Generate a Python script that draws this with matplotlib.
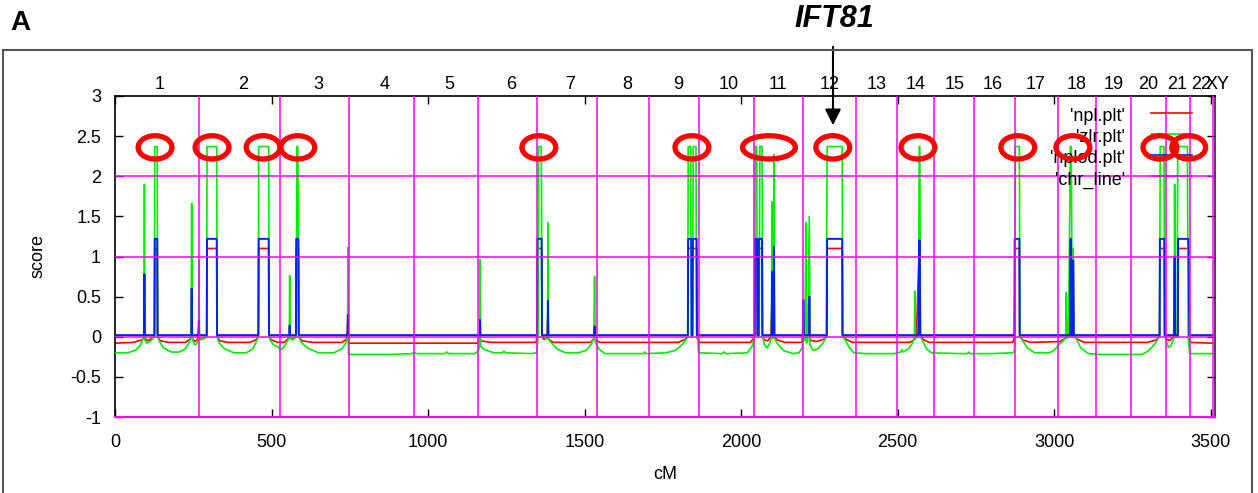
import numpy as np
import matplotlib
matplotlib.use('Agg')
import matplotlib.pyplot as plt
from matplotlib.patches import Ellipse, Rectangle

plt.rcParams['font.family'] = ['Liberation Sans', 'DejaVu Sans']

# chromosome boundaries (cM) and label positions along the top
chr_bounds = [268, 527, 747, 955, 1159, 1348, 1539, 1705, 1865, 2041, 2197,
              2367, 2498, 2616, 2744, 2875, 3012, 3133, 3245, 3357, 3433, 3507]
chr_names = [str(i) for i in range(1, 23)] + ['X', 'Y']
chr_label_cm = [144, 409, 651, 862, 1067, 1265, 1453, 1638, 1798, 1961, 2117,
                2284, 2434, 2558, 2683, 2804, 2940, 3072, 3190, 3302, 3392,
                3469, 3504, 3539]

# zlr.plt (green)
zlr_pts = [
    (0, -0.20), (40, -0.20), (65, -0.17), (82, -0.10), (90, -0.02), (93, -0.01),
    (94, 1.90), (95, -0.04), (102, -0.08), (112, -0.06), (122, -0.02), (126, 0.0),
    (127, 2.37), (135, 2.37), (136, 0.0), (142, -0.06), (155, -0.14), (180, -0.19),
    (205, -0.19), (225, -0.15), (237, -0.07), (243, -0.01), (245, 1.66), (247, -0.02),
    (252, -0.09), (258, -0.10), (264, -0.06), (267, -0.02), (268, 0.95), (270, -0.04),
    (278, -0.03), (288, -0.01), (293, 0.0), (294, 2.37), (325, 2.37), (326, 0.0),
    (333, -0.08), (350, -0.15), (380, -0.20), (420, -0.20), (440, -0.15), (452, -0.06),
    (458, 0.0), (459, 2.37), (491, 2.37), (492, 0.0), (498, -0.06), (510, -0.11),
    (522, -0.13), (527, -0.16), (535, -0.15), (546, -0.09), (554, -0.03), (557, 0.0),
    (558, 0.76), (560, -0.02), (568, -0.04), (576, -0.01), (579, 0.0), (581, 2.37),
    (584, 2.37), (587, 0.0), (595, -0.07), (615, -0.14), (650, -0.20), (700, -0.20),
    (725, -0.15), (737, -0.08), (743, -0.01), (744, 1.11), (746, -0.22), (800, -0.22),
    (880, -0.22), (950, -0.21), (955, -0.19), (962, -0.21), (1055, -0.21), (1060, -0.19),
    (1066, -0.21), (1150, -0.21), (1162, -0.17), (1165, -0.05), (1166, 0.96), (1168, -0.12),
    (1180, -0.16), (1210, -0.20), (1238, -0.20), (1242, -0.18), (1248, -0.20), (1330, -0.21),
    (1347, -0.20), (1352, 0.0), (1353, 2.37), (1362, 2.37), (1364, 0.0), (1370, 0.0),
    (1376, -0.02), (1382, 0.0), (1383, 1.42), (1385, -0.03), (1395, -0.08), (1415, -0.16),
    (1440, -0.20), (1480, -0.20), (1505, -0.17), (1522, -0.09), (1530, -0.01), (1532, 0.75),
    (1534, -0.06), (1545, -0.15), (1565, -0.21), (1630, -0.21), (1688, -0.21), (1692, -0.19),
    (1696, -0.21), (1760, -0.20), (1790, -0.17), (1812, -0.10), (1825, -0.03), (1830, 0.0),
    (1831, 2.37), (1839, 2.37), (1841, 0.0), (1845, 0.0), (1847, 2.37), (1856, 2.37),
    (1858, 0.0), (1862, -0.05), (1864, -0.20), (1940, -0.21), (1946, -0.19), (1952, -0.21),
    (2020, -0.20), (2035, -0.12), (2042, -0.02), (2044, 0.0), (2045, 2.37), (2050, 2.37),
    (2052, 0.0), (2058, 0.0), (2060, 2.37), (2067, 2.37), (2069, 0.0), (2075, -0.10),
    (2083, -0.14), (2092, -0.08), (2097, 0.0), (2099, 1.68), (2101, -0.02), (2103, 0.0),
    (2105, 2.27), (2107, -0.02), (2115, -0.08), (2135, -0.17), (2165, -0.21), (2185, -0.20),
    (2195, -0.14), (2198, -0.05), (2204, -0.04), (2207, 1.42), (2209, -0.08), (2213, -0.05),
    (2218, 1.50), (2220, -0.10), (2230, -0.17), (2245, -0.15), (2262, -0.08), (2272, 0.0),
    (2275, 2.37), (2323, 2.37), (2325, 0.0), (2333, -0.04), (2345, -0.13), (2360, -0.20),
    (2400, -0.21), (2490, -0.21), (2498, -0.20), (2510, -0.19), (2514, -0.16), (2518, -0.19),
    (2535, -0.15), (2548, -0.08), (2554, 0.0), (2555, 0.57), (2557, -0.02), (2563, 0.0),
    (2567, 0.10), (2569, 2.37), (2571, 2.37), (2573, 0.0), (2580, -0.05), (2592, -0.15),
    (2608, -0.20), (2700, -0.21), (2723, -0.21), (2727, -0.19), (2731, -0.21), (2800, -0.21),
    (2868, -0.20), (2873, -0.18), (2875, 0.0), (2876, 2.37), (2889, 2.37), (2891, 0.0),
    (2900, -0.05), (2915, -0.14), (2938, -0.20), (2985, -0.20), (3000, -0.17), (3015, -0.10),
    (3030, -0.05), (3037, 0.0), (3039, 0.55), (3041, -0.02), (3046, 0.0), (3052, 2.37),
    (3055, 2.37), (3058, 0.0), (3061, 1.10), (3063, 0.0), (3071, -0.02), (3085, -0.14),
    (3110, -0.21), (3140, -0.22), (3280, -0.22), (3300, -0.18), (3320, -0.10), (3333, -0.02),
    (3337, 0.0), (3339, 2.37), (3351, 2.37), (3353, 0.0), (3358, -0.05), (3365, -0.13),
    (3372, -0.12), (3380, -0.05), (3384, 0.0), (3385, 1.90), (3387, 0.0), (3393, 0.0),
    (3395, 2.37), (3426, 2.37), (3428, 0.0), (3433, -0.21), (3507, -0.21),
]

# nplod.plt (blue)
nplod_pts = [
    (0, 0.02), (93, 0.02), (94, 0.78), (95, 0.02), (126, 0.02), (127, 1.22), (135, 1.22),
    (136, 0.02), (244, 0.02), (245, 0.60), (246, 0.02), (267, 0.02), (268, 0.20), (269, 0.02),
    (293, 0.02), (294, 1.22), (325, 1.22), (326, 0.02), (458, 0.02), (459, 1.22), (491, 1.22),
    (492, 0.02), (557, 0.02), (558, 0.14), (559, 0.02), (578, 0.02), (579, 1.22), (586, 1.22),
    (587, 0.02), (743, 0.02), (744, 0.27), (745, 0.02), (1165, 0.02), (1166, 0.21), (1167, 0.02),
    (1348, 0.02), (1349, 1.22), (1363, 1.22), (1364, 0.02), (1382, 0.02), (1383, 0.45),
    (1384, 0.02), (1531, 0.02), (1532, 0.13), (1533, 0.02), (1830, 0.02), (1831, 1.22),
    (1841, 1.22), (1842, 0.02), (1845, 0.02), (1846, 1.22), (1858, 1.22), (1859, 0.02),
    (2043, 0.02), (2044, 1.22), (2051, 1.22), (2052, 0.02), (2056, 0.02), (2057, 1.22),
    (2067, 1.22), (2068, 0.02), (2098, 0.02), (2099, 0.81), (2100, 0.02), (2104, 0.02),
    (2105, 1.12), (2106, 0.02), (2198, 0.02), (2199, 0.46), (2200, 0.02), (2217, 0.02),
    (2218, 0.50), (2219, 0.02), (2274, 0.02), (2275, 1.22), (2323, 1.22), (2324, 0.02),
    (2566, 0.02), (2567, 0.10), (2569, 1.20), (2571, 1.20), (2572, 0.02), (2873, 0.02),
    (2874, 1.22), (2889, 1.22), (2890, 0.02), (3051, 0.02), (3052, 1.22), (3054, 1.22),
    (3055, 0.02), (3060, 0.02), (3061, 0.95), (3063, 0.02), (3337, 0.02), (3338, 1.22),
    (3352, 1.22), (3353, 0.02), (3384, 0.02), (3385, 1.00), (3386, 0.02), (3395, 0.02),
    (3396, 1.22), (3428, 1.22), (3430, 1.10), (3432, 0.02), (3507, 0.02),
]

# npl.plt (red)
npl_pts = [
    (0, -0.08), (60, -0.07), (85, -0.04), (93, -0.01), (94, 0.35), (95, -0.02), (105, -0.05),
    (118, -0.02), (126, 0.0), (127, 1.10), (135, 1.10), (136, 0.0), (145, -0.05), (170, -0.07),
    (225, -0.07), (240, -0.03), (244, 0.0), (245, 0.45), (246, -0.02), (255, -0.06), (264, -0.03),
    (268, 0.15), (269, -0.03), (285, -0.02), (293, 0.0), (294, 1.10), (325, 1.10), (326, 0.0),
    (335, -0.05), (360, -0.07), (430, -0.07), (450, -0.04), (458, 0.0), (459, 1.10), (491, 1.10),
    (492, 0.0), (500, -0.04), (520, -0.07), (540, -0.07), (552, -0.03), (557, 0.0), (558, 0.10),
    (559, -0.02), (570, -0.03), (578, 0.0), (579, 1.10), (586, 1.10), (587, 0.0), (597, -0.05),
    (630, -0.07), (725, -0.07), (740, -0.03), (744, 0.20), (746, -0.08), (1160, -0.08),
    (1165, -0.02), (1166, 0.15), (1168, -0.05), (1200, -0.07), (1345, -0.07), (1348, 0.0),
    (1349, 1.10), (1363, 1.10), (1364, 0.0), (1370, -0.03), (1380, -0.02), (1383, 0.30),
    (1385, -0.03), (1400, -0.07), (1520, -0.07), (1530, -0.02), (1532, 0.10), (1534, -0.04),
    (1550, -0.07), (1800, -0.07), (1822, -0.03), (1830, 0.0), (1831, 1.10), (1858, 1.10),
    (1859, 0.0), (1863, -0.07), (2030, -0.07), (2040, -0.02), (2044, 0.0), (2045, 1.10),
    (2067, 1.10), (2068, 0.0), (2075, -0.04), (2085, -0.05), (2095, -0.01), (2099, 0.50),
    (2101, 0.0), (2105, 0.90), (2107, 0.0), (2115, -0.04), (2140, -0.07), (2195, -0.07),
    (2199, 0.30), (2202, -0.03), (2210, -0.04), (2218, 0.35), (2220, -0.04), (2240, -0.06),
    (2265, -0.03), (2274, 0.0), (2275, 1.10), (2323, 1.10), (2324, 0.0), (2335, -0.03),
    (2355, -0.07), (2540, -0.07), (2552, -0.04), (2560, -0.01), (2569, 1.10), (2571, 1.10),
    (2573, 0.0), (2585, -0.04), (2600, -0.07), (2868, -0.07), (2874, 0.0), (2875, 1.10),
    (2889, 1.10), (2890, 0.0), (2900, -0.04), (2925, -0.07), (3020, -0.06), (3035, -0.02),
    (3045, 0.0), (3052, 1.00), (3055, 0.0), (3061, 0.80), (3063, 0.0), (3075, -0.03),
    (3095, -0.07), (3300, -0.07), (3325, -0.04), (3337, 0.0), (3338, 1.10), (3353, 1.10),
    (3354, 0.0), (3362, -0.04), (3372, -0.04), (3382, 0.0), (3385, 0.85), (3387, 0.0),
    (3396, 0.0), (3397, 1.10), (3426, 1.10), (3430, 1.05), (3432, -0.07), (3507, -0.08),
]

# circled peaks (centre cM, width cM)
circles = [(128, 108), (310, 108), (473, 108), (584, 108), (1354, 108), (1843, 108),
           (2089, 169), (2293, 108), (2565, 108), (2884, 108), (3060, 108), (3338, 108),
           (3430, 108)]

RED, GREEN, BLUE, MAG = '#ff0000', '#00ee00', '#0022ee', '#ff00ff'
FS = 13

fig = plt.figure(figsize=(12.58, 4.93), dpi=100)
ax = fig.add_axes([115 / 1258, 76 / 493, 1100 / 1258, 321 / 493])

npl = np.array(npl_pts)
zlr = np.array(zlr_pts)
nplod = np.array(nplod_pts)
ax.plot(npl[:, 0], npl[:, 1], color=RED, lw=1.2, zorder=2)
ax.plot(zlr[:, 0], zlr[:, 1], color=GREEN, lw=1.2, zorder=3)
ax.plot(nplod[:, 0], nplod[:, 1], color=BLUE, lw=1.4, zorder=4)

for b in chr_bounds:
    ax.axvline(b, color=MAG, lw=1.1, zorder=5)
for h in [0, 1, 2]:
    ax.axhline(h, color=MAG, lw=1.1, zorder=5)
ax.axhline(-1, color=MAG, lw=1.5, zorder=5, clip_on=False)

ax.set_xlim(0, 3514)
ax.set_ylim(-1, 3)
ax.set_xticks(np.arange(0, 3501, 500))
yt = np.arange(-1, 3.01, 0.5)
ax.set_yticks(yt)
ax.set_yticklabels([f'{v:g}' for v in yt])
ax.tick_params(direction='in', length=6, top=True, right=True, labelsize=FS, width=1)
ax.tick_params(axis='x', pad=12)
ax.tick_params(axis='y', pad=10)
ax.set_xlabel('cM', fontsize=FS, labelpad=11)
ax.set_ylabel('score', fontsize=FS, labelpad=17)
for s in ax.spines.values():
    s.set_linewidth(1.2)
ax.spines['bottom'].set_color('#4a1048')
ax.spines['right'].set_color('#4a1048')

for name, x in zip(chr_names, chr_label_cm):
    ax.text(x, 1.037, name, transform=ax.get_xaxis_transform(), ha='center',
            va='center', fontsize=FS, clip_on=False)

# legend in gnuplot style
leg_labels = ["'npl.plt'", "'zlr.plt'", "'nplod.plt'", "'chr_line'"]
leg_colors = [RED, GREEN, BLUE, MAG]
for i, (lab, c) in enumerate(zip(leg_labels, leg_colors)):
    y = 0.947 - i * 0.0655
    ax.plot([0.9418, 0.9791], [y, y], color=c, lw=1.2, transform=ax.transAxes, zorder=6)
    ax.text(0.918, y - 0.012, lab, transform=ax.transAxes, ha='right', va='center',
            fontsize=FS, zorder=6)

for cx, w in circles:
    ax.add_patch(Ellipse((cx, 2.36), w, 0.29, fill=False, edgecolor='#ff0000',
                         lw=3.8, zorder=10, clip_on=False))

fig.add_artist(Rectangle((3 / 1258, -0.05), 1249 / 1258, 443 / 493 + 0.05,
                         transform=fig.transFigure, fill=False,
                         edgecolor='#555555', lw=1.5))
fig.text(10 / 1258, 1 - 23 / 493, 'A', fontsize=20, weight='bold', ha='left', va='center')
fig.text(834 / 1258, 1 - 19 / 493, 'IFT81', fontsize=22, weight='bold', style='italic',
         ha='center', va='center')
ax.annotate('', xy=(833, 493 - 128), xytext=(833, 493 - 44), xycoords='figure pixels',
            textcoords='figure pixels',
            arrowprops=dict(arrowstyle='-|>', color='black', lw=1.5, mutation_scale=24),
            annotation_clip=False)

fig.savefig('out.png', dpi=100)
